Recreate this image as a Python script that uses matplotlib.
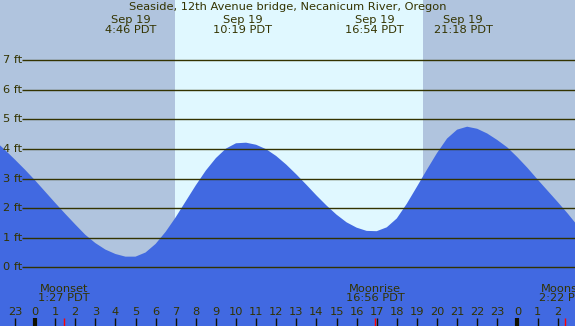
import numpy as np
import matplotlib
matplotlib.use("Agg")
import matplotlib.pyplot as plt

# -----------------------------
# Data
# -----------------------------
title = "Seaside, 12th Avenue bridge, Necanicum River, Oregon"

# hours since midnight Sep 19, every half hour, heights in ft
hours = np.arange(-2.0, 27.01, 0.5)
heights = [4.28, 3.97, 3.64, 3.30, 2.94, 2.56, 2.18, 1.81, 1.45, 1.10,
           0.82, 0.60, 0.45, 0.36, 0.36, 0.50, 0.79, 1.20, 1.69, 2.23,
           2.77, 3.27, 3.69, 4.01, 4.19, 4.21, 4.14, 3.99, 3.76, 3.47,
           3.14, 2.79, 2.43, 2.09, 1.78, 1.52, 1.34, 1.23, 1.22, 1.35,
           1.65, 2.15, 2.72, 3.30, 3.86, 4.35, 4.65, 4.75, 4.68, 4.52,
           4.30, 4.05, 3.72, 3.36, 2.97, 2.59, 2.21, 1.82, 1.40]

# high / low tide labels
extreme_hours = [4.77, 10.32, 16.90, 21.30]
extreme_labels = ["Sep 19\n4:46 PDT", "Sep 19\n10:19 PDT",
                  "Sep 19\n16:54 PDT", "Sep 19\n21:18 PDT"]

# sunrise / sunset
sunrise, sunset = 6.97, 19.30

# moon events
moon_hours = [1.45, 16.93, 26.37]
moon_labels = ["Moonset\n1:27 PDT", "Moonrise\n16:56 PDT", "Moonset\n2:22 PDT"]

ft_levels = [0, 1, 2, 3, 4, 5, 6, 7]
hour_ticks = list(range(-1, 27))

# -----------------------------
# Colours
# -----------------------------
night = "#b0c4de"
day = "#e0f8ff"
water = "#4169e1"
ink = "#333300"
fs = 8.2

# -----------------------------
# Figure
# -----------------------------
W, H = 575, 326
fig = plt.figure(figsize=(W / 100, H / 100), dpi=100)
ax = fig.add_axes([0, 0, 1, 1])
ax.set_axis_off()

# pixel <-> data mapping of the original chart
x0, px_hr = 35.0, 20.1
y0, px_ft = 267.3, 29.6
def fy(pix):
    return (y0 - pix) / px_ft
def fx(pix):
    return (pix - x0) / px_hr

ax.set_xlim(fx(0), fx(W))
ax.set_ylim(fy(H), fy(0))

ax.axvspan(fx(0), fx(W), color=night, lw=0, zorder=0)
ax.axvspan(sunrise, sunset, color=day, lw=0, zorder=0)

ax.fill_between(hours, fy(H) - 1, heights, color=water, lw=0, zorder=1)

# height grid
ax.hlines(ft_levels, fx(22), fx(W), colors=ink, lw=1, zorder=2)
for lv in ft_levels:
    ax.text(fx(3), lv, f"{lv} ft", color=ink, fontsize=fs,
            ha="left", va="center", zorder=3)

# title and extremes
ax.text(fx(W / 2), fy(7.5), title, color=ink, fontsize=fs,
        ha="center", va="center", zorder=3)
for h, lab in zip(extreme_hours, extreme_labels):
    ax.text(h, fy(25), lab, color=ink, fontsize=fs, ha="center",
            va="center", linespacing=0.95, zorder=3)

# hour axis
for h in hour_ticks:
    lw = 3 if h % 24 == 0 else 1
    ax.vlines(h, fy(318), fy(H), colors="#111100", lw=lw, zorder=3)
    ax.text(h, fy(312), str(h % 24), color=ink, fontsize=fs,
            ha="center", va="center", zorder=3, clip_on=True)

# moon events
for h, lab in zip(moon_hours, moon_labels):
    ax.text(h, fy(293.5), lab, color=ink, fontsize=fs, ha="center",
            va="center", linespacing=0.95, zorder=3, clip_on=True)
    ax.vlines(h, fy(318), fy(H), colors="red", lw=1, zorder=4)

fig.savefig("out.png", dpi=100)
